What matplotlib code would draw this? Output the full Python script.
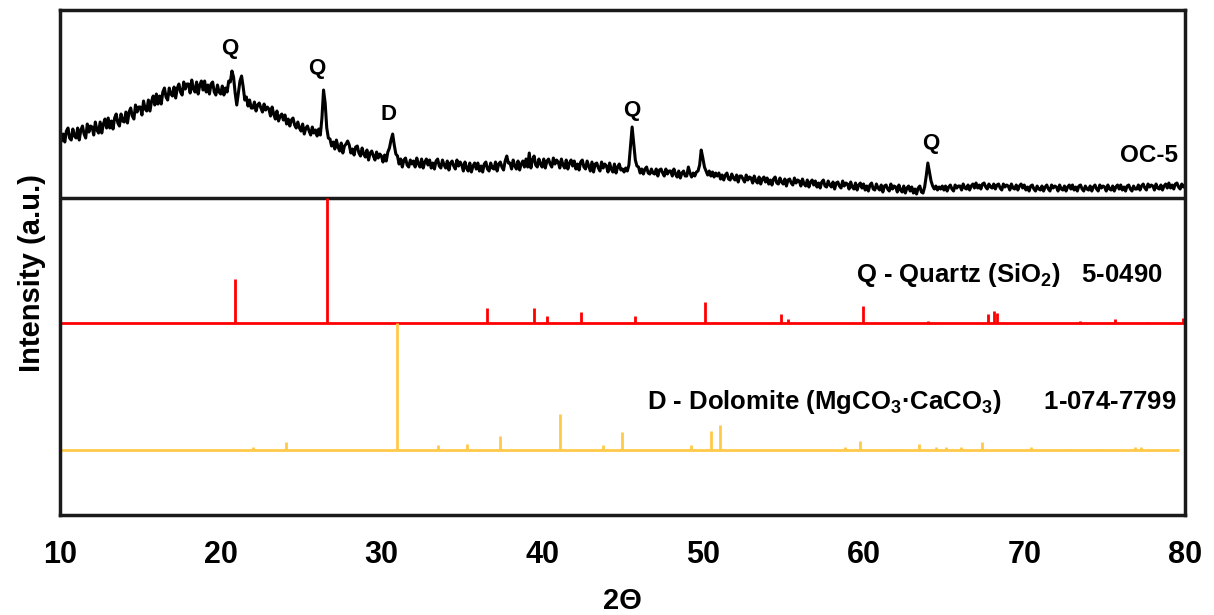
import numpy as np
import matplotlib
matplotlib.use('Agg')
import matplotlib.pyplot as plt

plt.rcParams['font.family'] = ['Liberation Sans', 'DejaVu Sans']
plt.rcParams['font.weight'] = 'bold'
plt.rcParams['mathtext.fontset'] = 'custom'
plt.rcParams['mathtext.rm'] = 'Liberation Sans:bold'
plt.rcParams['mathtext.it'] = 'Liberation Sans:bold'
plt.rcParams['mathtext.bf'] = 'Liberation Sans:bold'

# OC-5 scan, 10-80 deg, step 0.1 (intensity a.u.)
scan_start, scan_step = 10.0, 0.1
oc5 = [
    68, 57, 64, 56, 67, 70, 60, 58, 69, 62,            # 10
    60, 70, 58, 68, 72, 64, 60, 74, 66, 72,            # 11
    71, 63, 76, 68, 65, 76, 65, 74, 79, 70,            # 12
    80, 70, 77, 69, 80, 84, 75, 72, 84, 77,            # 13
    76, 86, 75, 86, 90, 82, 79, 93, 86, 91,            # 14
    91, 83, 97, 89, 87, 98, 87, 97, 102, 93,           # 15
    104, 94, 102, 94, 106, 110, 101, 98, 110, 104,     # 16
    102, 111, 100, 110, 114, 106, 103, 116, 109, 114,  # 17
    114, 105, 118, 109, 106, 116, 104, 113, 117, 108,  # 18
    117, 106, 113, 104, 114, 116, 106, 103, 113, 106,  # 19
    104, 112, 103, 110, 106, 117, 116, 127, 121, 105,  # 20
    93, 105, 117, 122, 111, 98, 101, 92, 98, 90,       # 21
    90, 96, 87, 93, 95, 90, 86, 94, 88, 91,            # 22
    89, 82, 91, 84, 79, 87, 77, 82, 84, 78,            # 23
    83, 74, 79, 72, 78, 80, 73, 70, 76, 70,            # 24
    67, 74, 64, 70, 72, 67, 63, 71, 65, 68,            # 25
    62, 69, 63, 80, 108, 95, 70, 60, 59, 52,           # 26
    56, 49, 58, 51, 47, 55, 45, 52, 54, 57,            # 27
    53, 45, 49, 43, 51, 52, 45, 42, 50, 44,            # 28
    41, 48, 38, 45, 47, 42, 38, 46, 40, 44,            # 29
    42, 36, 43, 37, 46, 50, 58, 64, 53, 44,            # 30
    42, 34, 39, 31, 38, 40, 33, 31, 38, 34,            # 31
    37, 31, 40, 34, 31, 39, 30, 36, 39, 33,            # 32
    38, 30, 35, 29, 37, 39, 32, 30, 38, 33,            # 33
    30, 37, 28, 35, 37, 32, 29, 38, 32, 36,            # 34
    33, 27, 36, 30, 27, 35, 26, 32, 35, 29,            # 35
    35, 27, 32, 26, 34, 36, 29, 27, 35, 30,            # 36
    29, 36, 27, 34, 36, 31, 28, 37, 42, 35,            # 37
    35, 29, 38, 32, 29, 37, 28, 34, 37, 31,            # 38
    39, 31, 45, 30, 38, 42, 33, 31, 39, 34,            # 39
    31, 39, 30, 37, 39, 34, 31, 40, 34, 38,            # 40
    36, 30, 39, 33, 30, 38, 29, 35, 38, 32,            # 41
    37, 29, 34, 28, 36, 38, 31, 29, 37, 32,            # 42
    27, 36, 26, 34, 35, 30, 27, 36, 30, 34,            # 43
    32, 26, 35, 29, 26, 34, 25, 31, 34, 28,            # 44
    29, 26, 30, 27, 33, 52, 71, 55, 38, 32,            # 45
    31, 25, 29, 24, 29, 31, 25, 24, 29, 25,            # 46
    24, 29, 22, 28, 29, 25, 22, 29, 24, 27,            # 47
    27, 22, 29, 24, 21, 27, 20, 25, 27, 22,            # 48
    22, 31, 25, 21, 25, 22, 26, 27, 33, 48,            # 49
    40, 31, 27, 23, 27, 22, 26, 21, 25, 22,            # 50
    25, 19, 23, 18, 23, 25, 19, 18, 24, 20,            # 51
    18, 23, 16, 22, 22, 19, 16, 23, 18, 21,            # 52
    20, 15, 22, 17, 15, 21, 14, 19, 21, 16,            # 53
    20, 14, 18, 13, 19, 21, 15, 14, 20, 16,            # 54
    14, 19, 12, 18, 19, 15, 13, 20, 15, 18,            # 55
    17, 12, 19, 14, 12, 18, 11, 16, 18, 13,            # 56
    17, 11, 15, 10, 16, 18, 12, 11, 17, 13,            # 57
    11, 16, 9, 15, 16, 12, 10, 17, 12, 15,             # 58
    14, 9, 16, 11, 9, 15, 8, 13, 15, 10,               # 59
    14, 8, 12, 7, 13, 15, 9, 8, 14, 10,                # 60
    8, 13, 6, 12, 13, 9, 7, 14, 9, 12,                 # 61
    11, 6, 13, 8, 6, 12, 5, 10, 12, 7,                 # 62
    11, 5, 9, 4, 10, 12, 6, 5, 11, 22,                 # 63
    35, 26, 17, 12, 9, 12, 8, 11, 9, 12,               # 64
    8, 12, 7, 11, 13, 9, 7, 13, 10, 12,                # 65
    12, 8, 14, 10, 9, 13, 8, 12, 14, 10,               # 66
    15, 10, 13, 9, 14, 15, 11, 9, 14, 11,              # 67
    10, 14, 9, 13, 14, 10, 8, 14, 11, 13,              # 68
    12, 8, 14, 10, 9, 13, 8, 12, 14, 10,               # 69
    13, 8, 11, 7, 12, 13, 9, 7, 12, 9,                 # 70
    8, 12, 7, 11, 13, 9, 7, 13, 10, 12,                # 71
    11, 7, 13, 9, 8, 12, 7, 11, 13, 9,                 # 72
    13, 8, 11, 7, 12, 13, 9, 7, 12, 9,                 # 73
    8, 12, 7, 11, 13, 9, 7, 13, 10, 12,                # 74
    11, 7, 13, 9, 8, 12, 7, 11, 13, 9,                 # 75
    13, 8, 11, 7, 12, 13, 9, 7, 12, 9,                 # 76
    9, 13, 8, 12, 14, 10, 8, 14, 11, 13,               # 77
    12, 8, 14, 10, 9, 13, 8, 12, 14, 10,               # 78
    15, 10, 13, 9, 14, 15, 11, 9, 14, 11,              # 79
    13,                                                # 80
]
two_theta = scan_start + scan_step * np.arange(len(oc5))

# Q - Quartz 5-0490
quartz_pos = [20.86, 26.64, 36.54, 39.47, 40.29, 42.45, 45.79, 50.14, 54.87, 55.33,
              59.96, 64.03, 67.74, 68.14, 68.31, 73.47, 75.66, 77.67, 79.88]
quartz_int = [35, 100, 12, 12, 6, 9, 6, 17, 7, 3,
              14, 2, 7, 10, 8, 2, 3, 1, 4]

# D - Dolomite 1-074-7799
dolo_pos = [22.03, 24.06, 30.94, 33.54, 35.33, 37.37, 41.13, 43.80, 44.95, 49.27,
            50.51, 51.05, 51.30, 58.87, 59.80, 62.01, 63.42, 64.50, 65.13, 66.06,
            67.37, 70.42, 72.84, 74.62, 76.86, 77.25]
dolo_int = [2, 6, 100, 4, 5, 11, 28, 4, 14, 4,
            15, 20, 1, 2, 7, 1, 5, 2, 2, 2,
            6, 2, 1, 1, 2, 2]

fig = plt.figure(figsize=(12.14, 6.15), dpi=100)
ax = fig.add_axes([0.0494, 0.1626, 0.9267, 0.8211])

sep = 317       # line between sample and reference patterns
q_base, d_base = 192, 65

ax.plot(two_theta, sep + np.array(oc5), color='black', lw=2.2)
ax.axhline(sep, color='#1a1a1a', lw=2.5)

ax.hlines(q_base, 10, 80, color='#ff0000', lw=2)
ax.vlines(quartz_pos, q_base, q_base + 1.25 * np.array(quartz_int), color='#ff0000', lw=2)

ax.hlines(d_base, 10, 79.6, color='#ffc94a', lw=2)
ax.vlines(dolo_pos, d_base, d_base + 1.27 * np.array(dolo_int), color='#ffc94a', lw=2)

for x, y, s in [(20.55, 467, 'Q'), (25.95, 447, 'Q'), (30.45, 401, 'D'),
                (45.6, 405, 'Q'), (64.2, 372, 'Q')]:
    ax.text(x, y, s, ha='center', va='center', fontsize=16, fontweight='bold')
ax.text(77.75, 360, 'OC-5', ha='center', va='center', fontsize=17.5, fontweight='bold')
ax.text(78.6, 240, r'Q - Quartz (SiO$_2$)   5-0490', ha='right', va='center',
        fontsize=18.5, fontweight='bold')
ax.text(79.45, 113, r'D - Dolomite (MgCO$_3$·CaCO$_3$)      1-074-7799', ha='right',
        va='center', fontsize=18.5, fontweight='bold')

ax.set_xlim(10, 80)
ax.set_ylim(0, 505)
ax.set_xticks(range(10, 81, 10))
ax.tick_params(axis='x', length=0, pad=18, labelsize=22)
ax.set_yticks([])
for lab in ax.get_xticklabels():
    lab.set_fontweight('bold')
for sp in ax.spines.values():
    sp.set_linewidth(2.5)
    sp.set_color('#1a1a1a')
ax.set_xlabel('2Θ', fontsize=21, fontweight='bold', labelpad=12)
ax.set_ylabel('Intensity (a.u.)', fontsize=21, fontweight='bold')
ax.yaxis.set_label_coords(-0.012, 0.48)

fig.savefig('out.png', dpi=100)
